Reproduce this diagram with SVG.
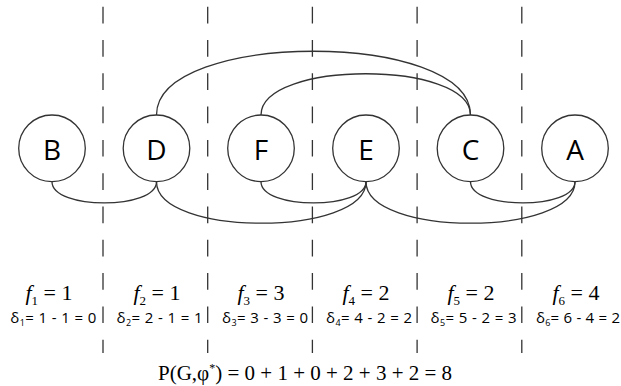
<svg xmlns="http://www.w3.org/2000/svg" width="621" height="386" viewBox="0 0 621 386">
<style>
.bg{fill:#ffffff}
.sep{stroke:#333;stroke-width:1.3;stroke-dasharray:16.7 16.6;fill:none}
.node circle{fill:#ffffff;stroke:#333;stroke-width:1.3}
.node text{font-family:"Open Sans","Noto Sans",sans-serif;font-size:28px;fill:#000;text-anchor:middle}
.edge{fill:none;stroke:#333;stroke-width:1.3}
.f{font-family:"Liberation Serif","Times New Roman",serif;font-size:22px;fill:#000;text-anchor:middle}
.fi{font-style:italic}
.fs{font-size:13px}
.d{font-family:"Open Sans","Noto Sans",sans-serif;font-size:15px;fill:#000;text-anchor:middle}
.ds{font-size:9px}
.p{font-family:"Liberation Serif","Times New Roman",serif;font-size:21px;fill:#000}
.ps{font-size:12px}
</style>
<rect class="bg" x="0" y="0" width="621" height="386"/>
<g id="separators">
<line class="sep" x1="103" y1="6.7" x2="103" y2="353"/>
<line class="sep" x1="207.7" y1="6.7" x2="207.7" y2="353"/>
<line class="sep" x1="312.4" y1="6.7" x2="312.4" y2="353"/>
<line class="sep" x1="417.1" y1="6.7" x2="417.1" y2="353"/>
<line class="sep" x1="521.8" y1="6.7" x2="521.8" y2="353"/>
</g>
<g id="connectors">
<path class="edge" d="M156.5,115 C156.5,30 470.5,30 470.5,115"/>
<path class="edge" d="M261,115 C261,60 470.5,60 470.5,115"/>
<path class="edge" d="M52,181.7 C52,210 156.5,210 156.5,181.7"/>
<path class="edge" d="M156.5,181.7 C156.5,237 366,237 366,181.7"/>
<path class="edge" d="M261,181.7 C261,210 366,210 366,181.7"/>
<path class="edge" d="M366,181.7 C366,237 575,237 575,181.7"/>
<path class="edge" d="M470.5,181.7 C470.5,210 575,210 575,181.7"/>
</g>
<g id="node-B" class="node"><circle cx="52" cy="148.3" r="33.3"/><text x="52" y="160">B</text></g>
<g id="node-D" class="node"><circle cx="156.5" cy="148.3" r="33.3"/><text x="156.5" y="160">D</text></g>
<g id="node-F" class="node"><circle cx="261" cy="148.3" r="33.3"/><text x="261" y="160">F</text></g>
<g id="node-E" class="node"><circle cx="366" cy="148.3" r="33.3"/><text x="366" y="160">E</text></g>
<g id="node-C" class="node"><circle cx="470.5" cy="148.3" r="33.3"/><text x="470.5" y="160">C</text></g>
<g id="node-A" class="node"><circle cx="575" cy="148.3" r="33.3"/><text x="575" y="160">A</text></g>
<g id="labels-f">
<text class="f" x="49" y="300"><tspan class="fi">f</tspan><tspan class="fs" dy="5">1</tspan><tspan dy="-5"> = 1</tspan></text>
<text class="f" x="157" y="300"><tspan class="fi">f</tspan><tspan class="fs" dy="5">2</tspan><tspan dy="-5"> = 1</tspan></text>
<text class="f" x="261" y="300"><tspan class="fi">f</tspan><tspan class="fs" dy="5">3</tspan><tspan dy="-5"> = 3</tspan></text>
<text class="f" x="366" y="300"><tspan class="fi">f</tspan><tspan class="fs" dy="5">4</tspan><tspan dy="-5"> = 2</tspan></text>
<text class="f" x="471" y="300"><tspan class="fi">f</tspan><tspan class="fs" dy="5">5</tspan><tspan dy="-5"> = 2</tspan></text>
<text class="f" x="576" y="300"><tspan class="fi">f</tspan><tspan class="fs" dy="5">6</tspan><tspan dy="-5"> = 4</tspan></text>
</g>
<g id="labels-delta">
<text class="d" x="53.3" y="323" textLength="86" lengthAdjust="spacing">δ<tspan class="ds" dy="3">1</tspan><tspan dy="-3">= 1 - 1 = 0</tspan></text>
<text class="d" x="159.5" y="323" textLength="86" lengthAdjust="spacing">δ<tspan class="ds" dy="3">2</tspan><tspan dy="-3">= 2 - 1 = 1</tspan></text>
<text class="d" x="265" y="323" textLength="86" lengthAdjust="spacing">δ<tspan class="ds" dy="3">3</tspan><tspan dy="-3">= 3 - 3 = 0</tspan></text>
<text class="d" x="369" y="323" textLength="86" lengthAdjust="spacing">δ<tspan class="ds" dy="3">4</tspan><tspan dy="-3">= 4 - 2 = 2</tspan></text>
<text class="d" x="473.5" y="323" textLength="86" lengthAdjust="spacing">δ<tspan class="ds" dy="3">5</tspan><tspan dy="-3">= 5 - 2 = 3</tspan></text>
<text class="d" x="578" y="323" textLength="84" lengthAdjust="spacing">δ<tspan class="ds" dy="3">6</tspan><tspan dy="-3">= 6 - 4 = 2</tspan></text>
</g>
<g id="total">
<text class="p" x="158" y="380">P(G,φ<tspan class="ps" dy="-8">*</tspan><tspan dy="8">) = 0 + 1 + 0 + 2 + 3 + 2 = 8</tspan></text>
</g>
</svg>
